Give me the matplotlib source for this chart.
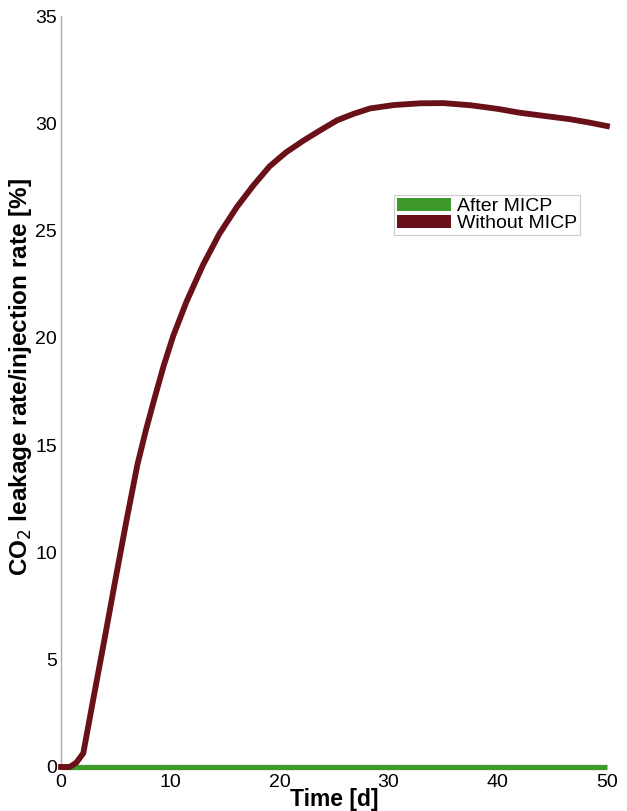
import numpy as np
import matplotlib
matplotlib.use('Agg')
import matplotlib.pyplot as plt
from matplotlib.patches import Patch

plt.rcParams['font.family'] = ['Liberation Sans', 'DejaVu Sans']

# red curve (without MICP)
time_red = [0, 0.8, 1.4, 2.04, 3.0, 4.0, 5.0, 6.0, 7.0, 7.8, 8.6, 9.4, 10.28, 11.5, 13.0, 14.5,
            16.1, 17.6, 19.1, 20.6, 22.2, 23.8, 25.3, 26.8, 28.3, 30.5, 32.9, 35.0, 37.5, 40.0,
            42.0, 44.3, 46.6, 48.3, 50.0]
leak_red = [0, 0, 0.2, 0.64, 3.28, 6.0, 8.78, 11.5, 14.1, 15.75, 17.25, 18.7, 20.1, 21.7, 23.4, 24.85,
            26.1, 27.1, 28.0, 28.65, 29.2, 29.7, 30.15, 30.45, 30.7, 30.86, 30.94, 30.95, 30.85, 30.68,
            30.5, 30.35, 30.2, 30.05, 29.88]

# green curve (after MICP)
time_green = [0, 10, 20, 30, 40, 50]
leak_green = [0, 0, 0, 0, 0, 0]

red = '#6a1019'
green = '#3e9a2b'

fig = plt.figure(figsize=(6.27, 8.11), dpi=100)
ax = fig.add_axes([0.0973, 0.0543, 0.8707, 0.9257])

ax.plot(time_green, leak_green, color=green, lw=3.8, zorder=2, solid_capstyle='butt', clip_on=False)
ax.plot(time_red, leak_red, color=red, lw=4.2, zorder=3, solid_joinstyle='round', clip_on=False)

ax.set_xlim(0, 50)
ax.set_ylim(0, 35)
ax.set_xticks([0, 10, 20, 30, 40, 50])
ax.set_yticks([0, 5, 10, 15, 20, 25, 30, 35])
ax.tick_params(length=0, labelsize=14, pad=3)
ax.tick_params(axis='x', pad=5)
for s in ['top', 'right', 'bottom']:
    ax.spines[s].set_visible(False)
ax.spines['left'].set_color('#aaaaaa')
ax.spines['left'].set_linewidth(1)

ax.set_xlabel('Time [d]', fontsize=16.5, fontweight='bold', labelpad=-2)
ax.set_ylabel('CO$_2$ leakage rate/injection rate [%]', fontsize=17.5, fontweight='bold')
ax.yaxis.set_label_coords(-0.05, 0.52)

handles = [Patch(facecolor=green, edgecolor='none'), Patch(facecolor=red, edgecolor='none')]
labels = ['After MICP', 'Without MICP']
leg = ax.legend(handles, labels, loc='upper left', bbox_to_anchor=(0.61, 0.762), fontsize=14,
                handlelength=2.8, handleheight=0.65, borderaxespad=0, borderpad=0.15,
                labelspacing=0.0, handletextpad=0.3, fancybox=False, framealpha=1)
leg.get_frame().set_edgecolor('#cccccc')
leg.get_frame().set_linewidth(0.8)

fig.savefig('out.png', dpi=100)
